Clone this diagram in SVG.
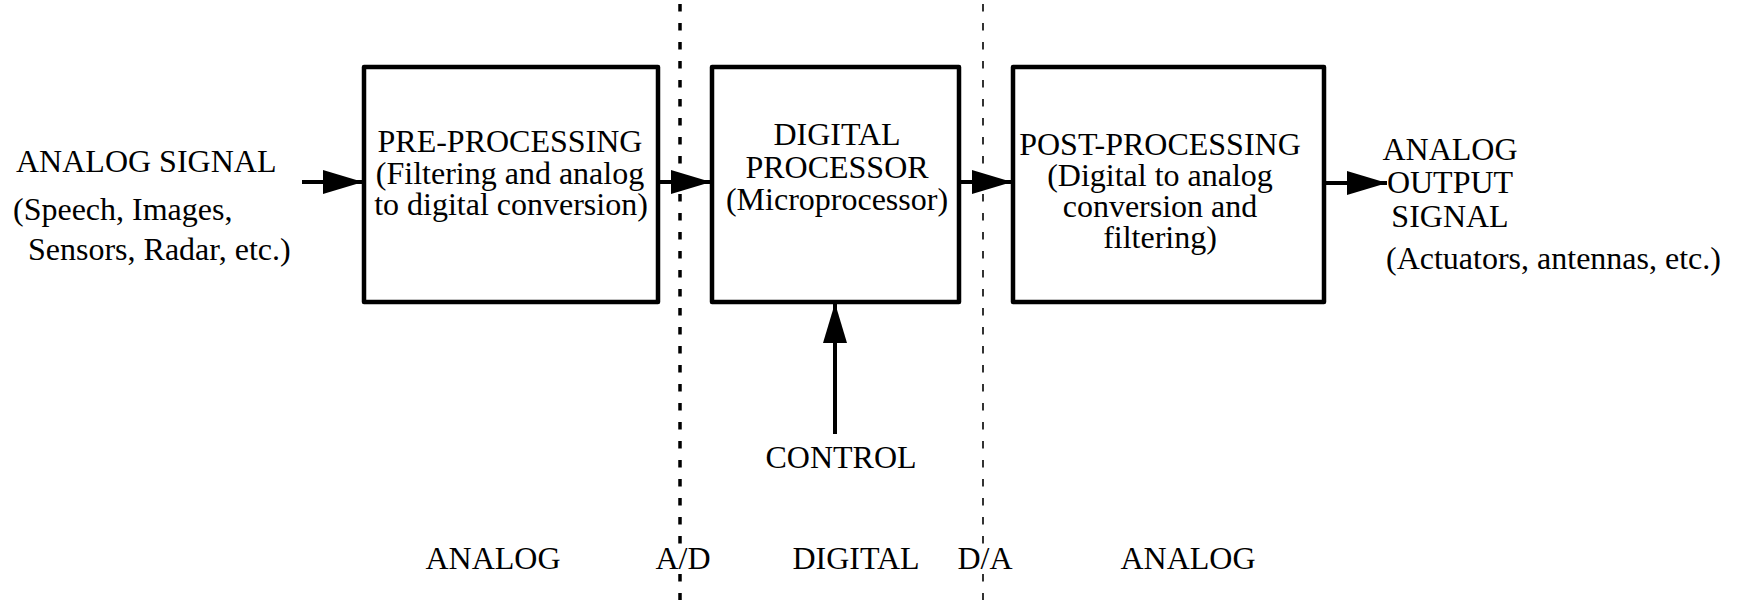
<svg xmlns="http://www.w3.org/2000/svg" width="1739" height="600" viewBox="0 0 1739 600">
<style>
text{font-family:"Liberation Serif","Times New Roman",serif;font-size:32px;fill:#000}
.box{fill:#fff;stroke:#000;stroke-width:4.5;stroke-linejoin:round}
.c{text-anchor:middle}
.conn{stroke:#000;stroke-width:4;fill:none}
.ad{stroke:#000;stroke-width:3.5;stroke-dasharray:7.5 11.5;fill:none}
.da{stroke:#000;stroke-width:1.6;stroke-dasharray:7.5 11.5;fill:none}
</style>
<defs>
<marker id="ah" markerWidth="40" markerHeight="24" refX="40" refY="12" orient="auto" markerUnits="userSpaceOnUse">
<path d="M0,0 L40,12 L0,24 Z" fill="#000"/>
</marker>
</defs>
<rect width="1739" height="600" fill="#fff"/>
<g id="boundaries">
<path class="ad" d="M680,4 V548 M680,574 V600"/>
<path class="da" d="M983,4 V548 M983,574 V600"/>
</g>
<g id="input">
<text x="16" y="172">ANALOG SIGNAL</text>
<text x="13" y="220">(Speech, Images,</text>
<text x="28" y="260">Sensors, Radar, etc.)</text>
</g>
<g id="pre">
<rect class="box" x="364" y="67" width="294" height="235"/>
<text class="c" x="510" y="152">PRE-PROCESSING</text>
<text class="c" x="510" y="184">(Filtering and analog</text>
<text class="c" x="511" y="215">to digital conversion)</text>
</g>
<g id="dsp">
<rect class="box" x="712" y="67" width="247" height="235"/>
<text class="c" x="837" y="145">DIGITAL</text>
<text class="c" x="837" y="178">PROCESSOR</text>
<text class="c" x="837" y="210">(Microprocessor)</text>
</g>
<g id="post">
<rect class="box" x="1013" y="67" width="311" height="235"/>
<text class="c" x="1160" y="155">POST-PROCESSING</text>
<text class="c" x="1160" y="186">(Digital to analog</text>
<text class="c" x="1160" y="217">conversion and</text>
<text class="c" x="1160" y="248">filtering)</text>
</g>
<g id="output">
<text class="c" x="1450" y="160">ANALOG</text>
<text class="c" x="1450" y="193">OUTPUT</text>
<text class="c" x="1450" y="227">SIGNAL</text>
<text x="1386" y="269">(Actuators, antennas, etc.)</text>
</g>
<g id="control">
<text class="c" x="841" y="468">CONTROL</text>
</g>
<g id="domains">
<text class="c" x="493" y="569">ANALOG</text>
<text class="c" x="683" y="569">A/D</text>
<text class="c" x="856" y="569">DIGITAL</text>
<text class="c" x="985" y="569">D/A</text>
<text class="c" x="1188" y="569">ANALOG</text>
</g>
<g id="connectors">
<path class="conn" d="M302,182 H363" marker-end="url(#ah)"/>
<path class="conn" d="M658,182 H711" marker-end="url(#ah)"/>
<path class="conn" d="M959,182 H1012" marker-end="url(#ah)"/>
<path class="conn" d="M1324,183 H1387" marker-end="url(#ah)"/>
<path class="conn" d="M835,434 V303" marker-end="url(#ah)"/>
</g>
</svg>
